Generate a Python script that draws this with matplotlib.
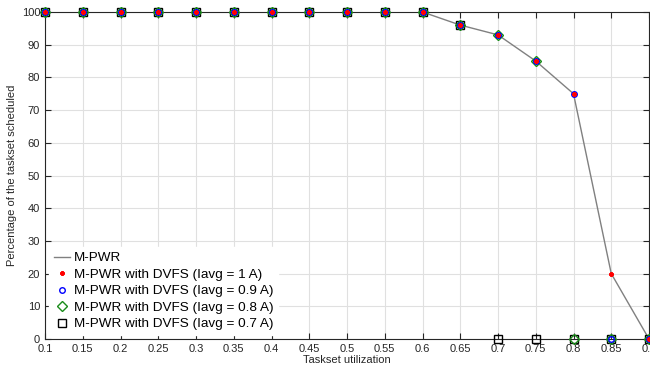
import matplotlib
matplotlib.use("Agg")
import matplotlib.pyplot as plt
import numpy as np

x = [0.1, 0.15, 0.2, 0.25, 0.3, 0.35, 0.4, 0.45, 0.5, 0.55, 0.6, 0.65, 0.7, 0.75, 0.8, 0.85, 0.9]
mpwr = [100, 100, 100, 100, 100, 100, 100, 100, 100, 100, 100, 96, 93, 85, 75, 20, 0]
dvfs_1 = [100, 100, 100, 100, 100, 100, 100, 100, 100, 100, 100, 96, 93, 85, 75, 20, 0]
dvfs_09 = [100, 100, 100, 100, 100, 100, 100, 100, 100, 100, 100, 96, 93, 85, 75, 0, 0]
dvfs_08 = [100, 100, 100, 100, 100, 100, 100, 100, 100, 100, 100, 96, 93, 85, 0, 0, 0]
dvfs_07 = [100, 100, 100, 100, 100, 100, 100, 100, 100, 100, 100, 96, 0, 0, 0, 0, 0]
xticks = [0.1, 0.15, 0.2, 0.25, 0.3, 0.35, 0.4, 0.45, 0.5, 0.55, 0.6, 0.65, 0.7, 0.75, 0.8, 0.85, 0.9]
yticks = [0, 10, 20, 30, 40, 50, 60, 70, 80, 90, 100]

plt.rcParams['font.family'] = ['Liberation Sans', 'DejaVu Sans']
fig = plt.figure(figsize=(6.5, 3.7), dpi=100)
ax = fig.add_axes([45/650, 1-339/370, 604/650, 327/370])

l0, = ax.plot(x, mpwr, color='#808080', lw=1.0, zorder=2, label='M-PWR')
l4, = ax.plot(x, dvfs_07, ls='none', marker='s', ms=6, mfc='none', mec='black', mew=1.0, zorder=3, clip_on=False)
l3, = ax.plot(x, dvfs_08, ls='none', marker='D', ms=5.5, mfc='none', mec='#1a8c1a', mew=1.0, zorder=4, clip_on=False)
l2, = ax.plot(x, dvfs_09, ls='none', marker='o', ms=4, mfc='none', mec='blue', mew=1.0, zorder=5, clip_on=False)
l1, = ax.plot(x, dvfs_1, ls='none', marker=(8, 2, 0), ms=3.2, mfc='red', mec='red', mew=1.0, zorder=6, clip_on=False)

ax.set_xlim(0.1, 0.9)
ax.set_ylim(0, 100)
ax.set_xticks(xticks)
ax.set_xticklabels([f"{t:g}" for t in xticks])
ax.set_yticks(yticks)
ax.tick_params(direction='in', length=4, labelsize=8, colors='#262626', top=True, right=True)
ax.grid(True, color='#e0e0e0', lw=0.8)
ax.set_axisbelow(True)
for s in ax.spines.values():
    s.set_color('#262626')
    s.set_linewidth(0.8)
ax.set_xlabel('Taskset utilization', fontsize=8, color='#262626', labelpad=1)
ax.set_ylabel('Percentage of the taskset scheduled', fontsize=8, color='#262626', labelpad=3)

leg = ax.legend([l0, l1, l2, l3, l4],
                ['M-PWR', 'M-PWR with DVFS (Iavg = 1 A)', 'M-PWR with DVFS (Iavg = 0.9 A)',
                 'M-PWR with DVFS (Iavg = 0.8 A)', 'M-PWR with DVFS (Iavg = 0.7 A)'],
                loc='lower left', bbox_to_anchor=(0.0, 0.0), fontsize=9.7, frameon=True,
                edgecolor='white', framealpha=1, fancybox=False, handlelength=1.2,
                handletextpad=0.3, labelspacing=0.3, borderpad=0.35, borderaxespad=0.3)
leg.set_zorder(10)

fig.savefig('out.png', dpi=100)
